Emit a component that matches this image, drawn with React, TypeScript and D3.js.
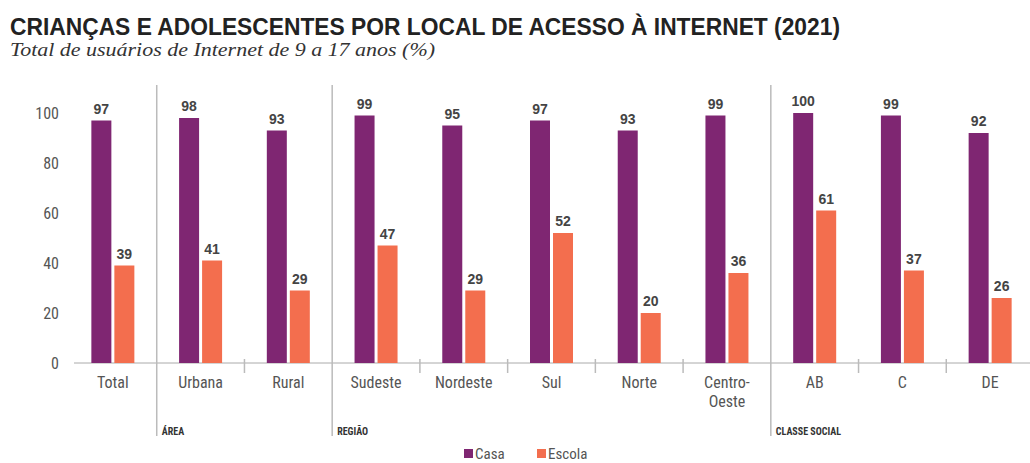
import React from "react";
import * as d3 from "d3";

const categories = ["Total", "Urbana", "Rural", "Sudeste", "Nordeste", "Sul", "Norte", "Centro-Oeste", "AB", "C", "DE"];
const categoryLines = [["Total"], ["Urbana"], ["Rural"], ["Sudeste"], ["Nordeste"], ["Sul"], ["Norte"], ["Centro-", "Oeste"], ["AB"], ["C"], ["DE"]];
const casa = [97, 98, 93, 99, 95, 97, 93, 99, 100, 99, 92];
const escola = [39, 41, 29, 47, 29, 52, 20, 36, 61, 37, 26];
const yTicks = [0, 20, 40, 60, 80, 100];
const groups = [
  { label: "ÁREA", start: "Urbana" },
  { label: "REGIÃO", start: "Sudeste" },
  { label: "CLASSE SOCIAL", start: "AB" },
];
const seriesNames = ["Casa", "Escola"];

const W = 1030;
const H = 463;
const CASA = "#7f2672";
const ESCOLA = "#f36e4e";
const TEXT = "#555";
const NARROW = "'Liberation Sans Narrow', 'Roboto Condensed', Roboto, sans-serif";

export default function App() {
  const x = d3.scaleBand<string>().domain(categories).range([69, 1034]).paddingInner(0).paddingOuter(0);
  const y = d3.scaleLinear().domain([0, 100]).range([363, 113]);
  const bw = 20;
  const gap = 3;
  const groupStarts = new Set(groups.map((g) => g.start));

  return (
    <svg width={W} height={H} style={{ position: "absolute", left: 0, top: 0, background: "#fff" }}>
      <text x={10} y={35} fontFamily="'Liberation Sans', Arial, sans-serif" fontWeight="bold" fontSize={23} fill="#222" textLength={830} lengthAdjust="spacingAndGlyphs">
        CRIANÇAS E ADOLESCENTES POR LOCAL DE ACESSO À INTERNET (2021)
      </text>
      <text x={10} y={56} fontFamily="'Liberation Serif', 'DejaVu Serif', serif" fontStyle="italic" fontSize={18} fill="#333" textLength={425} lengthAdjust="spacingAndGlyphs">
        Total de usuários de Internet de 9 a 17 anos (%)
      </text>

      {yTicks.map((t) => (
        <text key={t} x={59} y={y(t)} dy="0.35em" textAnchor="end" fontFamily={NARROW} fontSize={16} fill={TEXT}>
          {t}
        </text>
      ))}

      <line x1={74} x2={1030} y1={y(0)} y2={y(0)} stroke="#aaa" strokeWidth={1} />

      {categories.slice(1).map((c) => {
        const bx = x(c)!;
        return groupStarts.has(c) ? (
          <line key={c} x1={bx} x2={bx} y1={85} y2={436} stroke="#bbb" strokeWidth={1.5} />
        ) : (
          <line key={c} x1={bx} x2={bx} y1={359} y2={373} stroke="#bbb" strokeWidth={1.5} />
        );
      })}

      {categories.map((c, i) => {
        const cx = x(c)! + x.bandwidth() / 2;
        const x0 = cx - gap / 2 - bw;
        const x1 = cx + gap / 2;
        return (
          <g key={c}>
            <rect x={x0} y={y(casa[i])} width={bw} height={y(0) - y(casa[i])} fill={CASA} />
            <rect x={x1} y={y(escola[i])} width={bw} height={y(0) - y(escola[i])} fill={ESCOLA} />
            <text x={x0 + bw / 2} y={y(casa[i]) - 7} textAnchor="middle" fontFamily="'Liberation Sans', Arial, sans-serif" fontWeight="bold" fontSize={14} fill="#444">
              {casa[i]}
            </text>
            <text x={x1 + bw / 2} y={y(escola[i]) - 7} textAnchor="middle" fontFamily="'Liberation Sans', Arial, sans-serif" fontWeight="bold" fontSize={14} fill="#444">
              {escola[i]}
            </text>
            {categoryLines[i].map((ln, j) => (
              <text key={j} x={cx} y={382 + j * 19} dy="0.35em" textAnchor="middle" fontFamily={NARROW} fontSize={16} fill={TEXT}>
                {ln}
              </text>
            ))}
          </g>
        );
      })}

      {groups.map((g) => (
        <text key={g.label} x={x(g.start)! + 5} y={435} fontFamily={NARROW} fontWeight="bold" fontSize={10} fill="#333">
          {g.label}
        </text>
      ))}

      {seriesNames.map((s, i) => {
        const lx = i === 0 ? 464 : 537;
        return (
          <g key={s}>
            <rect x={lx} y={449} width={9} height={9} fill={i === 0 ? CASA : ESCOLA} />
            <text x={lx + 11} y={454} dy="0.35em" fontFamily={NARROW} fontSize={15} fill={TEXT}>
              {s}
            </text>
          </g>
        );
      })}
    </svg>
  );
}
